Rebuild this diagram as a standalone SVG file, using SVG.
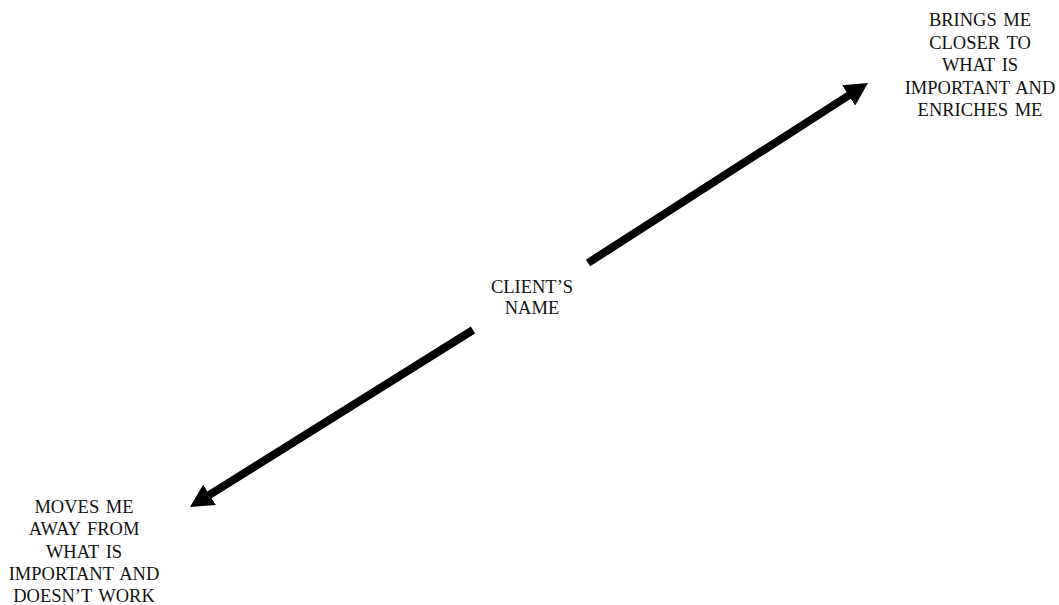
<svg xmlns="http://www.w3.org/2000/svg" width="1059" height="605" viewBox="0 0 1059 605">
<style>
text{font-family:"Liberation Serif","Times New Roman",serif;font-size:18.5px;fill:#111;text-anchor:middle;word-spacing:2px}
.arr{stroke:#000;stroke-width:8;fill:none;marker-end:url(#ah)}
</style>
<defs>
<marker id="ah" markerUnits="userSpaceOnUse" markerWidth="24" markerHeight="24" viewBox="0 0 24 24" refX="11" refY="12" orient="auto">
<path d="M0,0 L23,12 L0,24 z" fill="#000"/>
</marker>
</defs>
<rect width="1059" height="605" fill="#fff"/>
<g id="connectors">
<line class="arr" x1="588" y1="263" x2="857.9" y2="89.5"/>
<line class="arr" x1="473" y1="330" x2="200.2" y2="500.6"/>
</g>
<g id="node-client">
<text x="532" y="292.5">CLIENT’S</text>
<text x="532" y="314">NAME</text>
</g>
<g id="node-closer">
<text x="980" y="26">BRINGS ME</text>
<text x="980" y="48.5">CLOSER TO</text>
<text x="980" y="71">WHAT IS</text>
<text x="980" y="93.5">IMPORTANT AND</text>
<text x="980" y="116">ENRICHES ME</text>
</g>
<g id="node-away">
<text x="84" y="512.5">MOVES ME</text>
<text x="84" y="535">AWAY FROM</text>
<text x="84" y="557.5">WHAT IS</text>
<text x="84" y="580">IMPORTANT AND</text>
<text x="84" y="602">DOESN’T WORK</text>
</g>
</svg>
